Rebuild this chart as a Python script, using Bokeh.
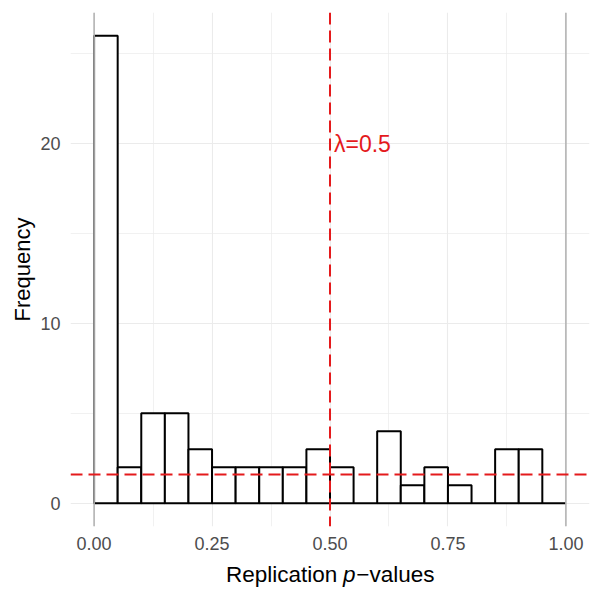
from bokeh.plotting import figure
from bokeh.layouts import column
from bokeh.models import Range1d, Label, Span, FixedTicker
from bokeh.core.properties import value
from bokeh.embed import file_html
from bokeh.resources import INLINE

# Histogram of replication p-values, bins of width 0.05
bin_edges = [round(i * 0.05, 2) for i in range(21)]
counts = [26, 2, 5, 5, 3, 2, 2, 2, 2, 3, 2, 0, 4, 1, 2, 1, 0, 3, 3, 0]
lam = 0.5
pi0_level = 1.6
x_ticks = [0, 0.25, 0.5, 0.75, 1.0]
x_tick_labels = ["0.00", "0.25", "0.50", "0.75", "1.00"]
y_ticks = [0, 10, 20]

FONT = "Liberation Sans"
RED = "#E41A1C"

xr = Range1d(-0.05, 1.05)
p = figure(width=600, height=560, output_backend="svg", toolbar_location=None,
           x_range=xr, y_range=Range1d(-1.3, 27.3),
           min_border_left=70, min_border_right=11, min_border_top=12, min_border_bottom=34)
p.outline_line_color = None
p.background_fill_color = "white"
p.border_fill_color = "white"

# grid
p.xgrid.ticker = FixedTicker(ticks=x_ticks, minor_ticks=[0.125, 0.375, 0.625, 0.875])
p.ygrid.ticker = FixedTicker(ticks=y_ticks, minor_ticks=[5, 15, 25])
for g in (p.xgrid, p.ygrid):
    g.grid_line_color = "#EBEBEB"
    g.grid_line_width = 1.1
    g.minor_grid_line_color = "#EBEBEB"
    g.minor_grid_line_width = 0.7

# axes
p.xaxis.ticker = FixedTicker(ticks=x_ticks)
p.xaxis.major_label_overrides = {t: s for t, s in zip(x_ticks, x_tick_labels)}
p.yaxis.ticker = FixedTicker(ticks=y_ticks)
for ax in (p.xaxis, p.yaxis):
    ax.axis_line_color = None
    ax.major_tick_line_color = None
    ax.minor_tick_line_color = None
    ax.major_tick_out = 0
    ax.major_tick_in = 0
    ax.major_label_text_font = FONT
    ax.major_label_text_font_size = "18px"
    ax.major_label_text_color = "#4D4D4D"
p.xaxis.major_label_standoff = 10
p.yaxis.major_label_standoff = 10
p.yaxis.axis_label = "Frequency"
p.yaxis.axis_label_text_font = FONT
p.yaxis.axis_label_text_font_size = "22px"
p.yaxis.axis_label_text_font_style = "normal"
p.yaxis.axis_label_text_color = "black"
p.yaxis.axis_label_standoff = 2

# reference lines at 0 and 1
for xv in (0, 1):
    p.add_layout(Span(location=xv, dimension="height", line_color="#B3B3B3", line_width=1.6))

# bars
left = bin_edges[:-1]
right = bin_edges[1:]
p.quad(left=left, right=right, bottom=0, top=counts,
       fill_color="white", line_color="black", line_width=2)

# lambda and pi0 reference lines
p.add_layout(Span(location=lam, dimension="height", line_color=RED,
                  line_width=2, line_dash="12 6"))
p.add_layout(Span(location=pi0_level, dimension="width", line_color=RED,
                  line_width=2, line_dash="12 6"))
p.add_layout(Label(x=lam, y=20, text="\u03bb=0.5", x_offset=4,
                   text_color=RED, text_font=FONT, text_font_size="23px",
                   text_align="left", text_baseline="middle"))

# x-axis title strip (with italic p)
t = figure(width=600, height=40, output_backend="svg", toolbar_location=None,
           x_range=xr, y_range=Range1d(0, 40),
           min_border_left=70, min_border_right=11, min_border_top=0, min_border_bottom=0)
t.axis.visible = False
t.grid.visible = False
t.outline_line_color = None
t.background_fill_color = "white"
t.border_fill_color = "white"

xt_x = 0.541
xt_y = 26
t.text(x=[xt_x], y=[xt_y], text=["Replication"], x_offset=-12,
       text_font=value(FONT), text_font_size="22.5px", text_color="black",
       text_align="right", text_baseline="alphabetic")
t.text(x=[xt_x], y=[xt_y], text=["p"],
       text_font=value(FONT), text_font_size="22.5px", text_font_style="italic",
       text_color="black", text_align="center", text_baseline="alphabetic")
t.text(x=[xt_x], y=[xt_y], text=["\u2212values"], x_offset=7,
       text_font=value(FONT), text_font_size="22.5px", text_color="black",
       text_align="left", text_baseline="alphabetic")

layout = column(p, t, spacing=0)
open("out.html", "w").write(file_html(layout, INLINE))
